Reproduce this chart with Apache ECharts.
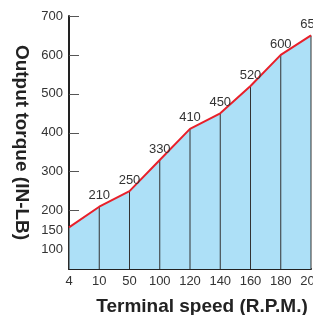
<!DOCTYPE html>
<html>
<head>
<meta charset="utf-8">
<script src="https://cdn.jsdelivr.net/npm/echarts@6/dist/echarts.min.js"></script>
<style>
  html, body { margin: 0; padding: 0; background: #fff; }
  #chart { width: 313px; height: 315px; }
</style>
</head>
<body>
<div id="chart"></div>
<script>
// data
const speeds = ['4', '10', '50', '100', '120', '140', '160', '180', '200'];
const torque = [157, 210, 250, 330, 410, 450, 520, 600, 650];
const yTicks = [100, 150, 200, 300, 400, 500, 600, 700];

const font = 'Liberation Sans';
const myChart = echarts.init(document.getElementById('chart'));

const option = {
  animation: false,
  grid: { left: 69, right: 2, top: 16, bottom: 46, outerBoundsMode: 'none' },
  xAxis: {
    type: 'category',
    data: speeds,
    boundaryGap: false,
    name: 'Terminal speed (R.P.M.)',
    nameLocation: 'middle',
    nameGap: 28,
    nameTextStyle: { fontFamily: font, fontSize: 19, fontWeight: 'bold', color: '#222', padding: [0, 0, 0, 24] },
    axisLine: { lineStyle: { color: '#222', width: 2 } },
    axisTick: { show: false },
    axisLabel: { fontFamily: font, fontSize: 13, color: '#333', margin: 6 }
  },
  yAxis: {
    type: 'value',
    min: 50,
    max: 700,
    interval: 50,
    name: 'Output torque (IN-LB)',
    nameLocation: 'middle',
    nameRotate: -90,
    nameGap: 38,
    nameTextStyle: { fontFamily: font, fontSize: 19, fontWeight: 'bold', color: '#222' },
    axisLine: { show: true, lineStyle: { color: '#222', width: 2 } },
    axisTick: { show: true, inside: true, length: 10, customValues: yTicks, lineStyle: { color: '#555' } },
    axisLabel: { fontFamily: font, fontSize: 13, color: '#333', margin: 6, customValues: yTicks },
    splitLine: { show: false }
  },
  series: [
    {
      // blue fill under the curve
      type: 'line',
      data: torque,
      z: 2,
      symbol: 'none',
      lineStyle: { width: 0 },
      areaStyle: { color: '#ade0f7', opacity: 1, origin: 'start' },
      silent: true
    },
    {
      // thin vertical drop lines
      type: 'bar',
      data: torque,
      z: 3,
      barWidth: 1,
      itemStyle: { color: '#333' },
      silent: true
    },
    {
      type: 'line',
      data: torque,
      z: 4,
      symbol: 'circle',
      symbolSize: 1,
      showSymbol: true,
      itemStyle: { color: 'transparent' },
      lineStyle: { color: '#e8202a', width: 2 },
      label: {
        show: true,
        position: 'top',
        distance: 4,
        fontFamily: font,
        fontSize: 13,
        color: '#333',
        formatter: p => (p.dataIndex === 0 ? '' : String(p.value))
      }
    }
  ]
};
myChart.setOption(option);
</script>
</body>
</html>
